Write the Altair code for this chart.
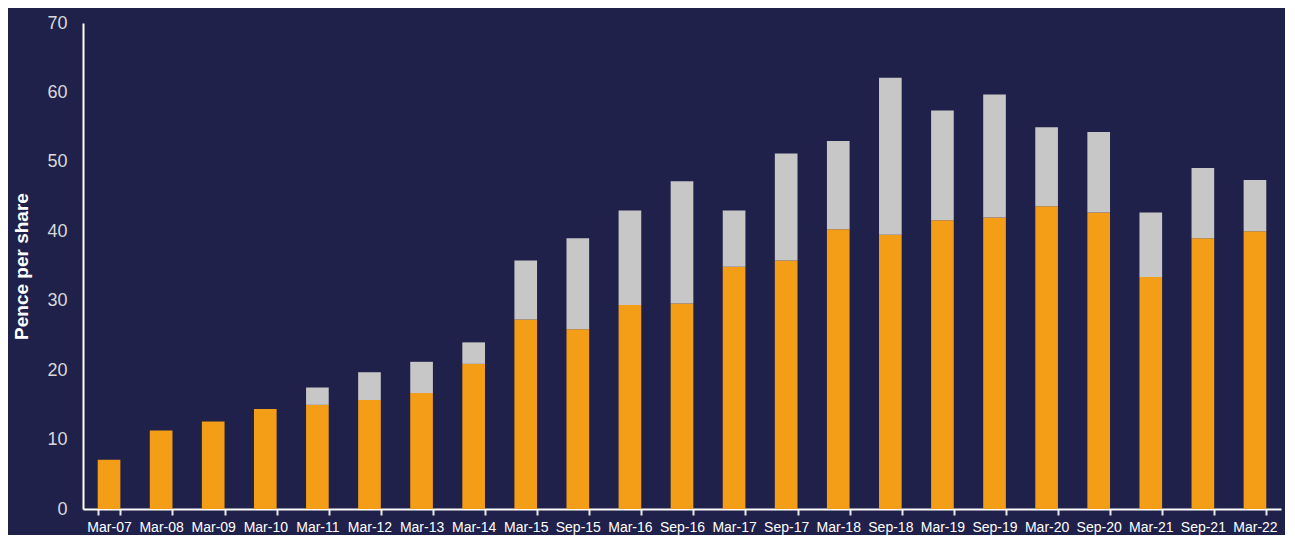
import altair as alt
import pandas as pd

periods = ["Mar-07", "Mar-08", "Mar-09", "Mar-10", "Mar-11", "Mar-12", "Mar-13", "Mar-14",
           "Mar-15", "Sep-15", "Mar-16", "Sep-16", "Mar-17", "Sep-17", "Mar-18", "Sep-18",
           "Mar-19", "Sep-19", "Mar-20", "Sep-20", "Mar-21", "Sep-21", "Mar-22"]
ordinary = [7.1, 11.3, 12.6, 14.4, 15.0, 15.7, 16.7, 20.9,
            27.3, 25.9, 29.4, 29.6, 34.9, 35.8, 40.3, 39.5,
            41.6, 42.0, 43.6, 42.7, 33.4, 39.0, 40.0]
totals = [7.1, 11.3, 12.6, 14.4, 17.5, 19.7, 21.2, 24.0,
          35.8, 39.0, 43.0, 47.2, 43.0, 51.2, 53.0, 62.1,
          57.4, 59.7, 55.0, 54.3, 42.7, 49.1, 47.4]
series = ["Ordinary", "Additional"]
colors = ["#F49D17", "#C7C7C7"]

rows = []
for p, o, t in zip(periods, ordinary, totals):
    rows.append({"period": p, "series": series[0], "value": o, "idx": 0})
    rows.append({"period": p, "series": series[1], "value": round(t - o, 2), "idx": 1})
df = pd.DataFrame(rows)

chart = alt.Chart(df).mark_bar().encode(
    x=alt.X("period:N", sort=periods, title=None,
            scale=alt.Scale(paddingInner=0.565, paddingOuter=0.2825),
            axis=alt.Axis(labelAngle=0, labelColor="#FFFFFF", labelFontSize=14,
                          labelFont="Liberation Sans", labelPadding=5,
                          domainColor="#FFFFFF", domainWidth=2,
                          tickColor="#E8E8E8", tickWidth=2, tickSize=6,
                          tickBand="extent", labelOverlap=False)),
    y=alt.Y("value:Q", title="Pence per share",
            scale=alt.Scale(domain=[0, 70], nice=False),
            axis=alt.Axis(values=[0, 10, 20, 30, 40, 50, 60, 70], grid=False,
                          ticks=False, labelColor="#D9D9D9", labelFontSize=18,
                          labelFont="Liberation Sans", labelPadding=16,
                          domainColor="#FFFFFF", domainWidth=2,
                          titleColor="#FFFFFF", titleFontSize=19,
                          titleFont="Liberation Sans", titleFontWeight="bold",
                          titlePadding=15)),
    color=alt.Color("series:N", scale=alt.Scale(domain=series, range=colors), legend=None),
    order=alt.Order("idx:Q", sort="ascending"),
).properties(
    width=1277, height=527, background="#20214A",
    padding={"left": 4, "top": 6, "right": 4, "bottom": 1},
    autosize=alt.AutoSizeParams(type="fit", contains="padding"),
).configure_view(stroke=None)

chart.save("out.html", embed_options={"renderer": "svg", "actions": False})
